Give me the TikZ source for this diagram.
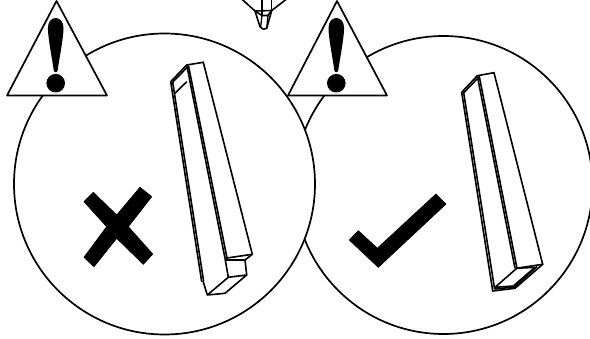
\documentclass[tikz,border=0pt]{standalone}
\tikzset{
  ln/.style={draw=black,line width=1.6pt,line join=miter,miter limit=3},
  thin ln/.style={draw=black,line width=1.3pt,line join=miter,miter limit=3},
  disc/.style={ln,fill=white,line width=1.7pt},
  warn/.style={ln,fill=white,line width=1.7pt,line join=round},
  solid mark/.style={fill=black,draw=black,line width=0.7pt,line join=round}
}
\begin{document}
\begin{tikzpicture}[x=1pt,y=-1pt]
\useasboundingbox (0,0) rectangle (590,339);
\fill[white] (0,0) rectangle (590,339);
\begin{scope}
\clip (0,0) rectangle (590,339);
% circles
\path[disc] (443.5,185) circle[radius=149];
\path[disc] (164.5,184) circle[radius=150.5];
% top tip
\draw[ln] (241.7,-1) -- (255,11) -- (262,15.5) -- (268,15.5) -- (271.7,10.5) -- (286.7,-1);
\draw[ln] (255,11) -- (271.7,10.5);
\draw[ln] (255,11) -- (260,26.7) -- (263.3,29.3) -- (266.7,28.3) -- (271.7,10.5);
\draw[thin ln] (262,15.5) -- (260.7,26.7);
\draw[thin ln] (268,15.5) -- (266.7,28.3);
\draw[ln] (262,-1) -- (262,15.5);
\draw[ln] (271.5,-1) -- (271.5,10.5);
\end{scope}
% warning triangles
\path[warn] (56.5,1) -- (107,95.5) -- (7,95.5) -- cycle;
\path[warn] (337,1) -- (387,95.5) -- (288,95.5) -- cycle;
\foreach \c in {55.7,336.3}{
  \fill[black] (\c,83.2) circle[radius=9.3];
  \fill[black] (\c-7.8,28) .. controls (\c-7.8,21.5) and (\c-4,18) .. (\c,18)
     .. controls (\c+4,18) and (\c+7.8,21.5) .. (\c+7.8,28)
     .. controls (\c+7.8,38) and (\c+3,62) .. (\c+2,70)
     .. controls (\c+1.5,73) and (\c-1.5,73) .. (\c-2,70)
     .. controls (\c-3,62) and (\c-7.8,38) .. (\c-7.8,28) -- cycle;
}
% cross
\path[solid mark] (93.3,192.3) -- (116.7,215) -- (140,187.3) -- (151.7,196.7) -- (128.3,226.7)
  -- (152.7,254) -- (143.3,264.3) -- (116.7,238.3) -- (94,266.7) -- (84,257.3) -- (106.7,226.7) -- (84,201.7) -- cycle;
% check
\path[solid mark] (349.3,240) -- (358.3,230.7) -- (377.3,248.3) -- (436,194) -- (446,204) -- (378.3,267.3) -- cycle;
% left bar
\draw[ln] (170.7,81.7) -- (186.7,65) -- (203.3,62.3) -- (252.3,254.3) -- (245,260) -- (246.7,275) -- (225,293.3) -- (207.3,295) -- (228.3,277.3) -- (246.7,275);
\draw[ln] (225,258.3) -- (252.3,254.3);
\draw[ln] (226,260) -- (245,260);
\draw[ln] (225,258.3) -- (228.3,277.3);
\draw[ln] (186.7,65) -- (225,258.3);
\draw[ln] (188.5,65.8) -- (227,258);
\draw[ln] (170.7,81.7) -- (201.7,281.7);
\draw[ln] (172.6,81.7) -- (203.6,281);
\draw[ln] (203,281) -- (207.3,295);
\draw[ln] (172.2,82.7) -- (187.5,67);
\draw[ln] (175,93.3) -- (186.7,81.7);
% right bar
\draw[ln] (461.7,92.3) -- (477.3,75.7) -- (494,72.7) -- (542.7,264.3) -- (515,288.3) -- (492.7,291) -- cycle;
\draw[ln] (463.6,92.3) -- (494.6,289);
\draw[ln] (463.2,93.3) -- (478.5,77.5);
\draw[ln] (477.3,75.7) -- (515,268.3);
\draw[ln] (479.2,76) -- (517,268.3);
\draw[ln] (516,268.3) -- (542.7,264.3);
\draw[ln] (494.6,289) -- (514.5,287) -- (537,266.5);
\draw[ln] (495,287.3) -- (516.7,268.3) -- (535,267.3) -- (513.3,286) -- cycle;
\end{tikzpicture}
\end{document}
